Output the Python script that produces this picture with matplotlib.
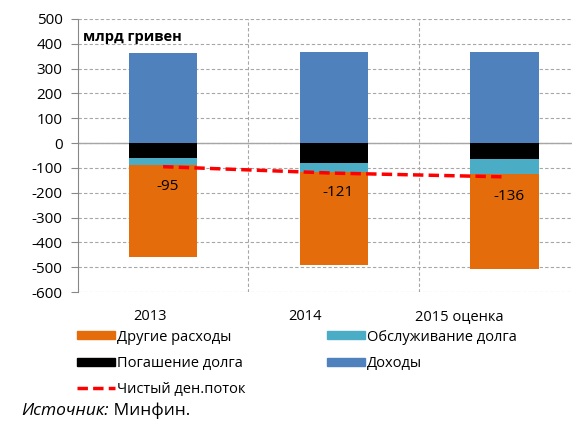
import numpy as np
import matplotlib.pyplot as plt
import matplotlib.transforms as mtransforms
from matplotlib.patches import Patch
from matplotlib.lines import Line2D
plt.switch_backend('Agg')

plt.rcParams['font.family'] = ['Open Sans', 'DejaVu Sans']
plt.rcParams['axes.unicode_minus'] = False

years = ['2013', '2014', '2015 оценка']
income = [364, 368, 368]
repayment = [-60, -80, -64]
servicing = [-27, -35, -59]
other = [-371, -376, -383]
net_flow = [-95, -121, -136]

c_other = '#E46C0A'
c_serv = '#4BACC6'
c_repay = '#000000'
c_income = '#4F81BD'


def main():
    fig = plt.figure(figsize=(5.72, 4.22), dpi=100)
    ax = fig.add_axes([0.136, 0.308, 0.895, 0.647])

    x = np.arange(len(years))
    w = 0.4
    ax.bar(x, income, w, color=c_income, zorder=3)
    ax.bar(x, repayment, w, color=c_repay, zorder=3)
    serv_base = np.array(repayment)
    ax.bar(x, servicing, w, bottom=serv_base, color=c_serv, zorder=3)
    other_base = serv_base + np.array(servicing)
    ax.bar(x, other, w, bottom=other_base, color=c_other, zorder=3)

    ax.plot(x, net_flow, color='#FF0000', lw=2.5, ls=(0, (3, 1.5)), zorder=4)
    for xi, v in zip(x, net_flow):
        ax.annotate(str(v), (xi, v), xytext=(3, -14), textcoords='offset points',
                    ha='center', va='center', fontsize=11, zorder=5)

    ax.set_xlim(-0.5, 2.5)
    ax.set_ylim(-600, 500)
    ax.set_yticks(np.arange(-600, 501, 100))
    ax.set_xticks(x)
    ax.set_xticklabels(years, fontsize=10.5)
    ax.set_xticks([0.5, 1.5], minor=True)
    ax.tick_params(axis='x', which='both', length=0, pad=12)
    ax.tick_params(axis='y', length=5, color='#888888', labelsize=11, pad=6)
    # category labels in the original sit left of the bar centres
    for lbl, dx in zip(ax.get_xticklabels(), [-13, -29, -45]):
        lbl.set_transform(lbl.get_transform() +
                          mtransforms.ScaledTranslation(dx / 100, 0, fig.dpi_scale_trans))

    ax.grid(axis='y', color='#A6A6A6', ls=(0, (3, 2)), lw=0.8, zorder=0)
    ax.grid(axis='x', which='minor', color='#A6A6A6', ls=(0, (3, 2)), lw=0.8, zorder=0)
    ax.axhline(0, color='#A6A6A6', lw=1, zorder=2)

    for s in ['top', 'right', 'bottom']:
        ax.spines[s].set_visible(False)
    ax.spines['left'].set_color('#888888')

    ax.text(0.01, 0.96, 'млрд гривен', transform=ax.transAxes, fontsize=10.5,
            fontweight='bold', va='top', ha='left')

    handles = [
        Patch(color=c_other, label='Другие расходы'),
        Patch(color=c_repay, label='Погашение долга'),
        Line2D([], [], color='#FF0000', lw=2.5, ls=(0, (3, 1.5)), label='Чистый ден.поток'),
        Patch(color=c_serv, label='Обслуживание долга'),
        Patch(color=c_income, label='Доходы'),
    ]
    fig.legend(handles=handles, loc='upper left', bbox_to_anchor=(0.1346, 0.219),
               ncol=2, frameon=False, fontsize=10.5, handlelength=2.6,
               handleheight=0.45, handletextpad=0.15, labelspacing=0.77,
               columnspacing=5.6, borderaxespad=0, borderpad=0)

    t1 = fig.text(0.038, 0.017, 'Источник:', fontsize=12.5, style='italic',
                  ha='left', va='baseline')
    ax.annotate(' Минфин.', xy=(1, 0), xycoords=t1, fontsize=12.5,
                ha='left', va='bottom', annotation_clip=False)

    fig.savefig('out.png', dpi=100)
    plt.close(fig)


if __name__ == "__main__":
    main()
